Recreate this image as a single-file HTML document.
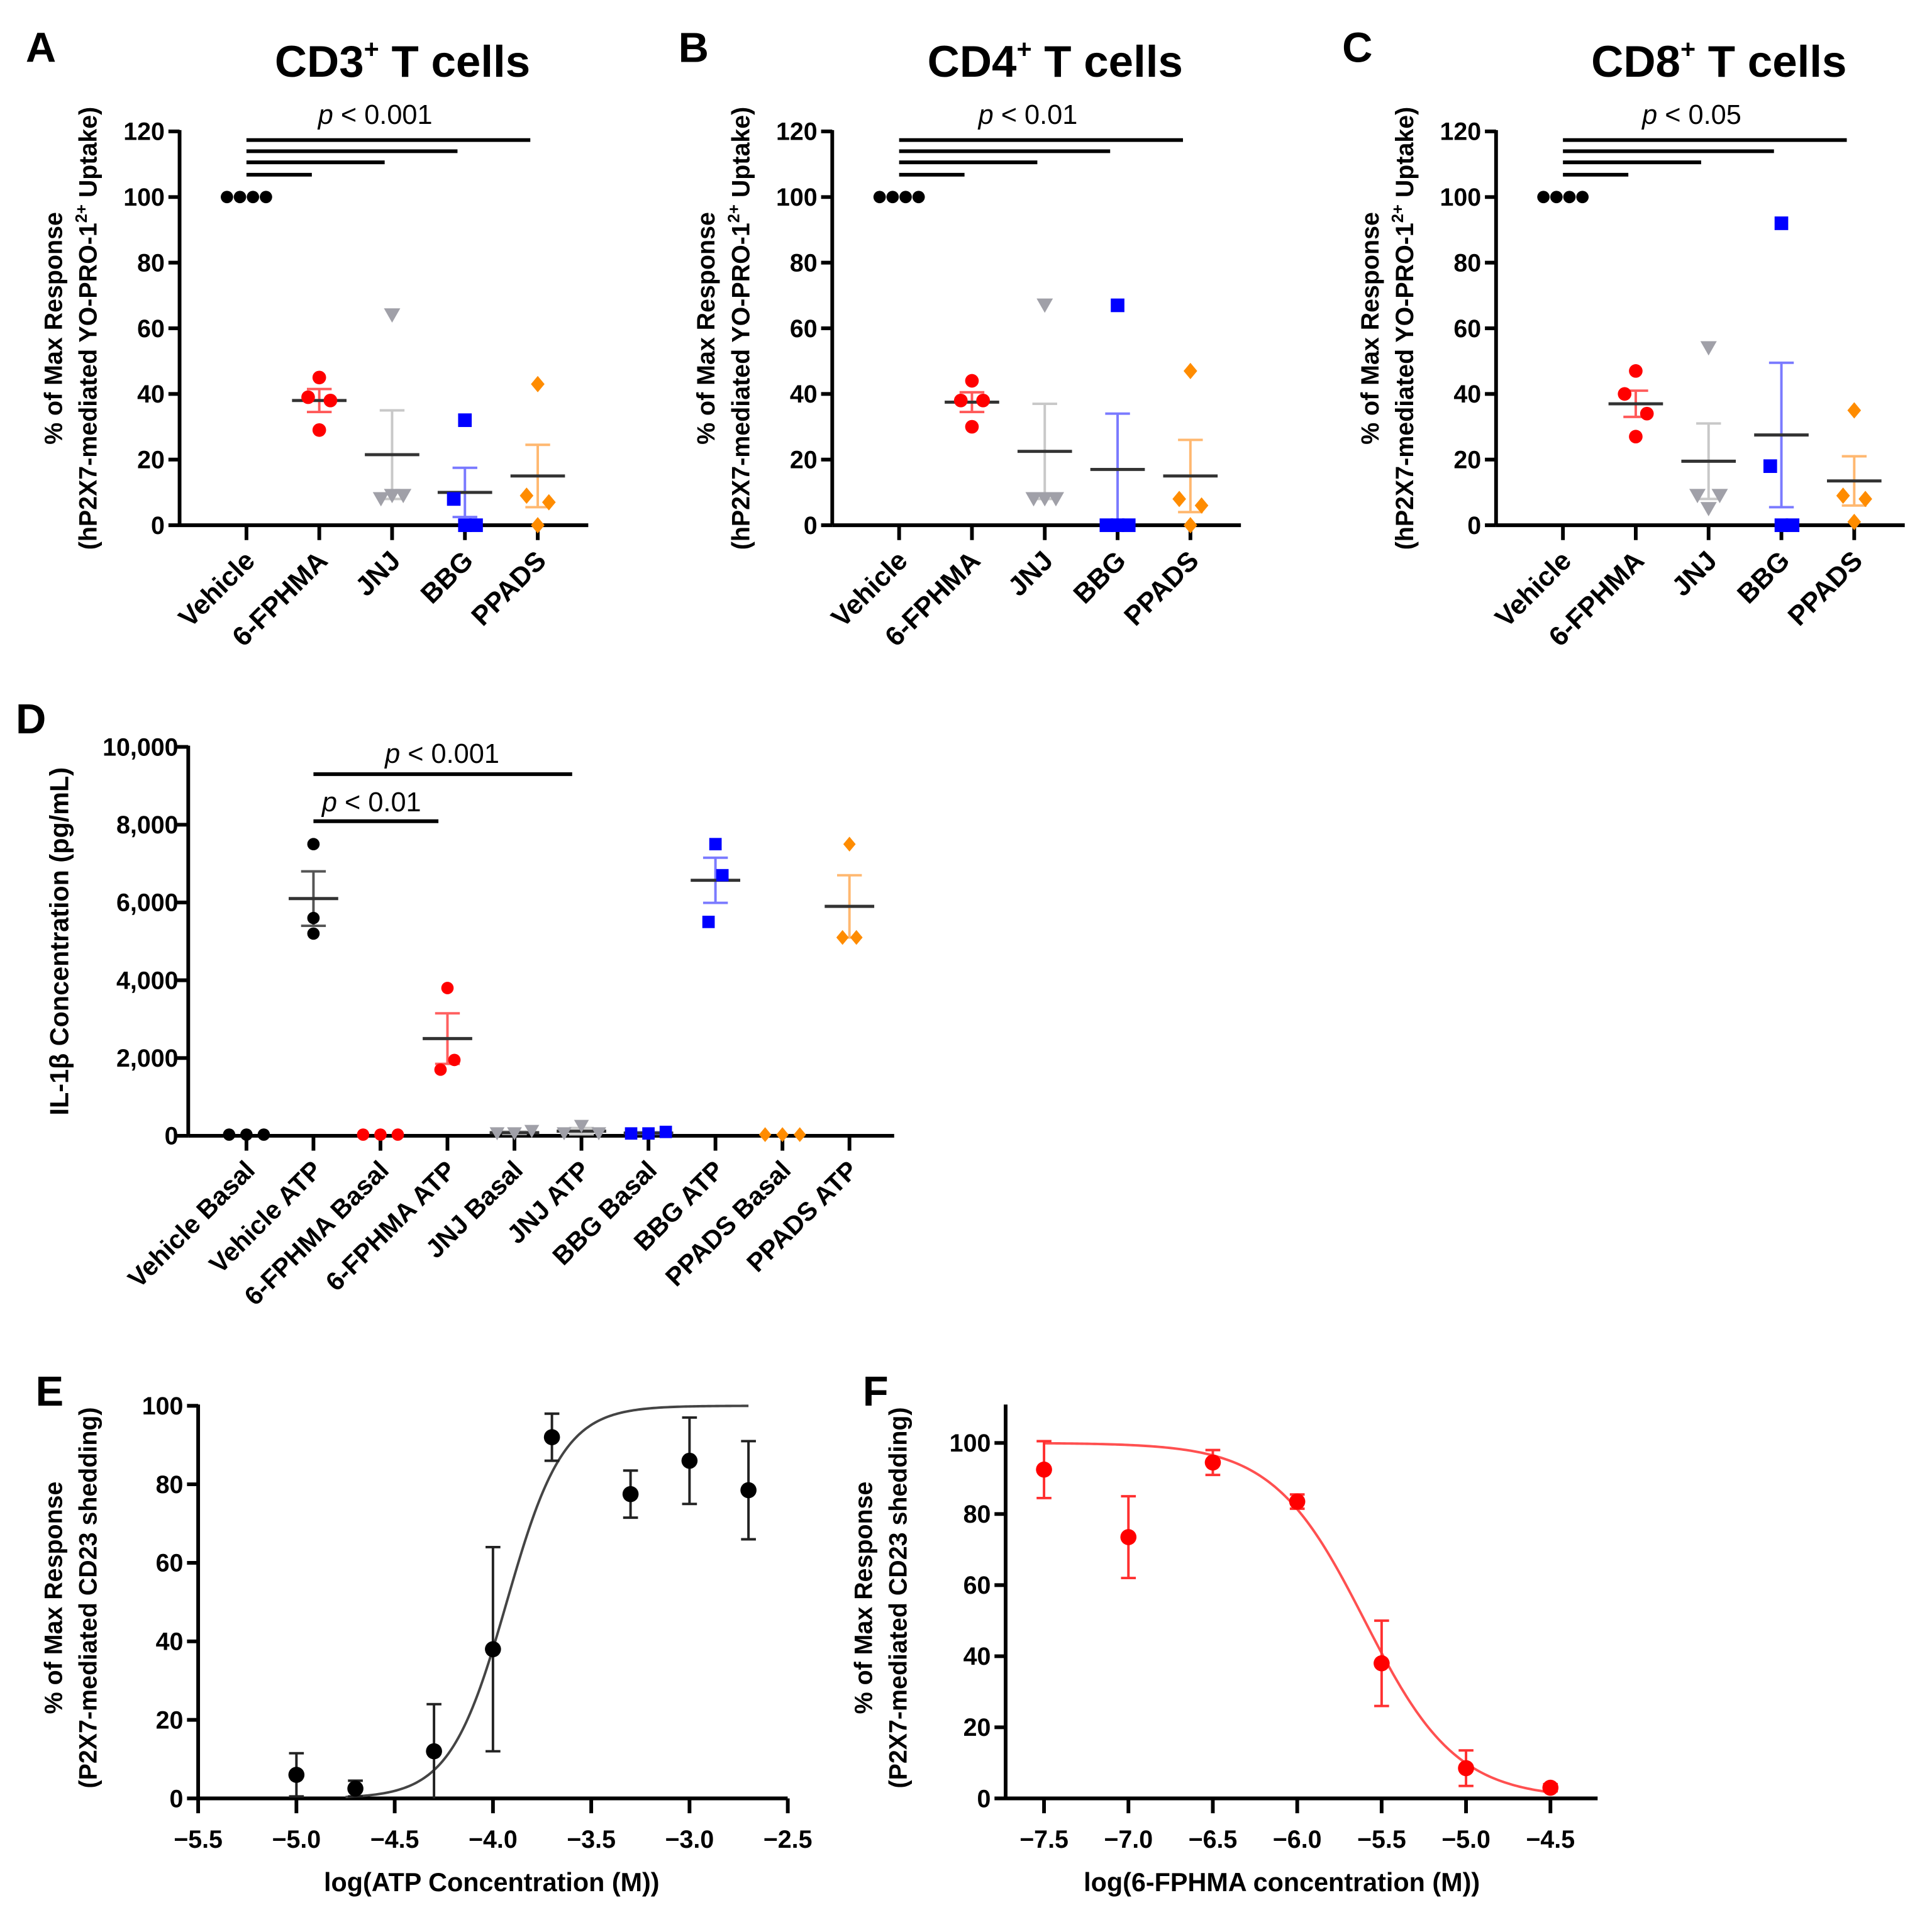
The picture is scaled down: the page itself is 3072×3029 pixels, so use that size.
<!DOCTYPE html>
<html><head><meta charset="utf-8">
<style>
html,body{margin:0;padding:0;background:#fff;}
svg{display:block;}
text{font-family:"Liberation Sans",Arial,sans-serif;}
</style></head>
<body>
<svg id="fig" xmlns="http://www.w3.org/2000/svg" width="3072" height="3029" viewBox="0 0 1560 1538">
</svg>
<script>
// ---------- Data: panels A-C ----------
const tCats = ["Vehicle","6-FPHMA","JNJ","BBG","PPADS"];
const tColors = ["#000000","#ff0000","#a0a0a8","#0000ff","#ff8c00"];
const tShapes = ["circle","circle","tri","square","diamond"];
const cd3Vals = [[100,100,100,100],[45,39,38,29],[64,8,9,9],[32,8,0,0],[43,9,7,0]];
const cd3Mean = [100,38,21.5,10,15];
const cd3Sem = [0,3.5,13.5,7.5,9.5];
const cd4Vals = [[100,100,100,100],[44,38,38,30],[67,8,8,8],[67,0,0,0],[47,8,6,0]];
const cd4Mean = [100,37.5,22.5,17,15];
const cd4Sem = [0,3,14.5,17,11];
const cd8Vals = [[100,100,100,100],[47,40,34,27],[54,9,9,5],[92,18,0,0],[35,9,8,1]];
const cd8Mean = [100,37,19.5,27.5,13.5];
const cd8Sem = [0,4,11.5,22,7.5];
const tTicks = [0,20,40,60,80,100,120];
const tPvals = ["0.001","0.01","0.05"];

// ---------- Data: panel D ----------
const dCats = ["Vehicle Basal","Vehicle ATP","6-FPHMA Basal","6-FPHMA ATP","JNJ Basal","JNJ ATP","BBG Basal","BBG ATP","PPADS Basal","PPADS ATP"];
const dVals = [[30,30,30],[7500,5600,5200],[30,30,30],[3800,1950,1700],[60,120,60],[250,60,60],[60,100,60],[7500,6700,5500],[30,30,30],[7500,5100,5100]];
const dMean = [30,6100,30,2500,80,120,70,6570,30,5900];
const dSem = [0,700,0,650,30,80,20,580,0,800];
const dTicks = [0,2000,4000,6000,8000,10000];
const dTickLabels = ["0","2,000","4,000","6,000","8,000","10,000"];

// ---------- Data: panel E ----------
const eX = [-5,-4.7,-4.3,-4,-3.7,-3.3,-3,-2.7];
const eY = [6,2.5,12,38,92,77.5,86,78.5];
const eErr = [5.5,2,12,26,6,6,11,12.5];
const eTicks = [-5.5,-5.0,-4.5,-4.0,-3.5,-3.0,-2.5];
const eFit = {ec50:-3.93, hill:3};

// ---------- Data: panel F ----------
const fX = [-7.5,-7,-6.5,-6,-5.5,-5,-4.5];
const fY = [92.5,73.5,94.5,83.5,38,8.5,3];
const fErr = [8,11.5,3.5,2,12,5,1];
const fTicks = [-7.5,-7.0,-6.5,-6.0,-5.5,-5.0,-4.5];
const fFit = {ic50:-5.6, hill:1.6};

const svg = document.getElementById('fig');
const NS = "http://www.w3.org/2000/svg";
function mk(tag, attrs, parent){
  const e = document.createElementNS(NS, tag);
  for (const k in attrs) e.setAttribute(k, attrs[k]);
  (parent||svg).appendChild(e);
  return e;
}
function txt(s, x, y, size, opts, parent){
  const t = mk('text', {x:x, y:y, 'font-size':size, 'font-weight':(opts&&opts.w)||'bold', 'text-anchor':(opts&&opts.a)||'middle', fill:(opts&&opts.fill)||'#000'}, parent);
  if (opts && opts.rot!==undefined) t.setAttribute('transform', `rotate(${opts.rot} ${x} ${y})`);
  if (opts && opts.italic) t.setAttribute('font-style','italic');
  t.textContent = s;
  return t;
}
function marker(shape, x, y, r, color, parent){
  let e;
  if (shape==='circle') e = mk('circle',{cx:x,cy:y,r:r,fill:color},parent);
  else if (shape==='square') e = mk('rect',{x:x-r,y:y-r,width:2*r,height:2*r,fill:color},parent);
  else if (shape==='tri') e = mk('polygon',{points:`${x-r*1.2},${y-r} ${x+r*1.2},${y-r} ${x},${y+r*1.1}`,fill:color},parent);
  else e = mk('polygon',{points:`${x},${y-r*1.2} ${x+r},${y} ${x},${y+r*1.2} ${x-r},${y}`,fill:color},parent);
  return e;
}
const jit4 = [0,-9,9,0];

// ---------- Panels A, B, C ----------
const tPanels = [
  {letter:"A", title:"CD3", vals:cd3Vals, mean:cd3Mean, sem:cd3Sem, ox:0},
  {letter:"B", title:"CD4", vals:cd4Vals, mean:cd4Mean, sem:cd4Sem, ox:527},
  {letter:"C", title:"CD8", vals:cd8Vals, mean:cd8Mean, sem:cd8Sem, ox:1063}
];
tPanels.forEach((p, pi) => {
  const g = mk('g', {});
  
  
  const ax = 145 + p.ox, x0 = 199 + p.ox, step = 58.8;
  const y = v => 424 - v * 2.65;
  const xc = i => x0 + i * step;
  const L = txt(p.letter, 33 + p.ox, 50, 34, {}, g);
  
  
  const T = mk('text', {x:325 + p.ox, y:62, 'font-size':36, 'font-weight':'bold', 'text-anchor':'middle'}, g);
  
  
  T.innerHTML = p.title + '<tspan dy="-15" font-size="21">+</tspan><tspan dy="15"> T cells</tspan>';
  const yt = mk('text', {x:50 + p.ox, y:265, 'font-size':20, 'font-weight':'bold', 'text-anchor':'middle', transform:`rotate(-90 ${50+p.ox} 265)`}, g);
  
  
  yt.textContent = '% of Max Response';
  const yt2 = mk('text', {x:78 + p.ox, y:265, 'font-size':20, 'font-weight':'bold', 'text-anchor':'middle', transform:`rotate(-90 ${78+p.ox} 265)`}, g);
  
  
  yt2.innerHTML = '(hP2X7-mediated YO-PRO-1<tspan dy="-8" font-size="13">2+</tspan><tspan dy="8"> Uptake)</tspan>';
  const yA = mk('line', {x1:ax, y1:y(120)-1, x2:ax, y2:y(0), stroke:'#000', 'stroke-width':3}, g);
  
  
  const xA = mk('line', {x1:ax, y1:y(0), x2:ax + 330, y2:y(0), stroke:'#000', 'stroke-width':3}, g);
  
  
  tTicks.forEach(t => {
    mk('line', {x1:ax - 9, y1:y(t), x2:ax, y2:y(t), stroke:'#000', 'stroke-width':3}, g);
    const tl = txt(String(t), ax - 12, y(t) + 7, 20, {a:'end'}, g);
    
    
  });
  tCats.forEach((c, i) => {
    mk('line', {x1:xc(i), y1:y(0), x2:xc(i), y2:y(0) + 12, stroke:'#000', 'stroke-width':3}, g);
    const cl = txt(c, xc(i) + 8, 454, 22, {a:'end', rot:-45}, g);
    
    
  });
  const sigY = [141, 131, 122, 113];
  [1, 2, 3, 4].forEach((k, j) => {
    const sl = mk('line', {x1:xc(0), y1:sigY[j], x2:xc(k) - 6, y2:sigY[j], stroke:'#000', 'stroke-width':3}, g);
    
    
  });
  const pt = mk('text', {x:303 + p.ox, y:100, 'font-size':22, 'text-anchor':'middle'}, g);
  
  
  pt.innerHTML = '<tspan font-style="italic">p</tspan> &lt; ' + tPvals[pi];
  tCats.forEach((c, i) => {
    const col = tColors[i];
    if (i > 0) {
      const lc = i === 1 ? '#ff5a5a' : (i === 2 ? '#c8c8c8' : (i === 3 ? '#7a7aff' : '#ffb870'));
      const lo = p.mean[i] - p.sem[i], hi = p.mean[i] + p.sem[i];
      const eb = mk('line', {x1:xc(i), y1:y(lo), x2:xc(i), y2:y(hi), stroke:lc, 'stroke-width':2}, g);
      
      
      mk('line', {x1:xc(i) - 10, y1:y(lo), x2:xc(i) + 10, y2:y(lo), stroke:lc, 'stroke-width':2}, g);
      mk('line', {x1:xc(i) - 10, y1:y(hi), x2:xc(i) + 10, y2:y(hi), stroke:lc, 'stroke-width':2}, g);
      const ml = mk('line', {x1:xc(i) - 22, y1:y(p.mean[i]), x2:xc(i) + 22, y2:y(p.mean[i]), stroke:'#333', 'stroke-width':2.5}, g);
      
      
    }
    p.vals[i].forEach((v, k) => {
      const dx = i === 0 ? (k - 1.5) * 10.5 : jit4[k];
      const m = marker(tShapes[i], xc(i) + dx, y(v), i === 0 ? 5 : 5.5, col, g);
      
      
    });
  });
});

// ---------- Panel D ----------
(function(){
  const g = mk('g', {});
  
  
  const ax = 152, x0 = 199, step = 54.1;
  const y = v => 917 - v * 0.0314;
  const xc = i => x0 + i * step;
  const L = txt('D', 25, 592, 34, {}, g);
  
  
  const yt = mk('text', {x:55, y:760, 'font-size':21, 'font-weight':'bold', 'text-anchor':'middle', transform:'rotate(-90 55 760)'}, g);
  
  
  yt.textContent = 'IL-1β Concentration (pg/mL)';
  const yA = mk('line', {x1:ax, y1:y(10000)-1, x2:ax, y2:y(0), stroke:'#000', 'stroke-width':3}, g);
  
  
  const xA = mk('line', {x1:ax, y1:y(0), x2:722, y2:y(0), stroke:'#000', 'stroke-width':3}, g);
  
  
  dTicks.forEach((t, k) => {
    mk('line', {x1:ax - 9, y1:y(t), x2:ax, y2:y(t), stroke:'#000', 'stroke-width':3}, g);
    const tl = txt(dTickLabels[k], ax - 8, y(t) + 7, 20, {a:'end'}, g);
    
    
  });
  const dColors = ["#000","#000","#ff0000","#ff0000","#a0a0a8","#a0a0a8","#0000ff","#0000ff","#ff8c00","#ff8c00"];
  const dShapes = ["circle","circle","circle","circle","tri","tri","square","square","diamond","diamond"];
  const errC = ["#555","#555","#ff6060","#ff6060","#c8c8c8","#c8c8c8","#7a7aff","#7a7aff","#ffb870","#ffb870"];
  const jit3 = [0,14,-14];
  dCats.forEach((c, i) => {
    mk('line', {x1:xc(i), y1:y(0), x2:xc(i), y2:y(0) + 12, stroke:'#000', 'stroke-width':3}, g);
    const cl = txt(c, xc(i) + 8, 946, 21, {a:'end', rot:-45}, g);
    
    
    const lo = dMean[i] - dSem[i], hi = dMean[i] + dSem[i];
    if (dSem[i] > 0) {
      const eb = mk('line', {x1:xc(i), y1:y(lo), x2:xc(i), y2:y(hi), stroke:errC[i], 'stroke-width':2}, g);
      
      
      mk('line', {x1:xc(i) - 10, y1:y(lo), x2:xc(i) + 10, y2:y(lo), stroke:errC[i], 'stroke-width':2}, g);
      mk('line', {x1:xc(i) - 10, y1:y(hi), x2:xc(i) + 10, y2:y(hi), stroke:errC[i], 'stroke-width':2}, g);
      const ml = mk('line', {x1:xc(i) - 20, y1:y(dMean[i]), x2:xc(i) + 20, y2:y(dMean[i]), stroke:'#333', 'stroke-width':2.5}, g);
      
      
    }
    dVals[i].forEach((v, k) => {
      const spread = i === 1 ? 0 : (dMean[i] > 1000 ? (k === 0 ? 0 : jit3[k] * 0.4) : jit3[k]);
      const m = marker(dShapes[i], xc(i) + spread, y(v), 5, dColors[i], g);
      
      
    });
  });
  const s1 = mk('line', {x1:xc(1), y1:625, x2:462, y2:625, stroke:'#000', 'stroke-width':3}, g);
  
  
  const s2 = mk('line', {x1:xc(1), y1:663, x2:354, y2:663, stroke:'#000', 'stroke-width':3}, g);
  
  
  const p1 = mk('text', {x:357, y:616, 'font-size':22, 'text-anchor':'middle'}, g);
  
  
  p1.innerHTML = '<tspan font-style="italic">p</tspan> &lt; 0.001';
  const p2 = mk('text', {x:300, y:655, 'font-size':22, 'text-anchor':'middle'}, g);
  
  
  p2.innerHTML = '<tspan font-style="italic">p</tspan> &lt; 0.01';
})();

// ---------- Dose-response panels ----------
function doseResponse(cfg){
  const g = mk('g', {});
  
  
  const X = v => cfg.px0 + (v - cfg.t0) * cfg.pxu;
  const Y = v => 1452 - v * cfg.pyu;
  const L = txt(cfg.letter, cfg.lx, 1135, 34, {}, g);
  
  
  const y1 = mk('text', {x:cfg.tx, y:1290, 'font-size':20, 'font-weight':'bold', 'text-anchor':'middle', transform:`rotate(-90 ${cfg.tx} 1290)`}, g);
  
  
  y1.textContent = '% of Max Response';
  const y2 = mk('text', {x:cfg.tx + 28, y:1290, 'font-size':20, 'font-weight':'bold', 'text-anchor':'middle', transform:`rotate(-90 ${cfg.tx + 28} 1290)`}, g);
  
  
  y2.textContent = '(P2X7-mediated CD23 shedding)';
  const yA = mk('line', {x1:cfg.ax, y1:cfg.ytop, x2:cfg.ax, y2:Y(0), stroke:'#000', 'stroke-width':3}, g);
  
  
  const xA = mk('line', {x1:cfg.ax, y1:Y(0), x2:cfg.xend, y2:Y(0), stroke:'#000', 'stroke-width':3}, g);
  
  
  [0,20,40,60,80,100].forEach(t => {
    mk('line', {x1:cfg.ax - 9, y1:Y(t), x2:cfg.ax, y2:Y(t), stroke:'#000', 'stroke-width':3}, g);
    const tl = txt(String(t), cfg.ax - 12, Y(t) + 7, 20, {a:'end'}, g);
    
    
  });
  cfg.ticks.forEach(t => {
    mk('line', {x1:X(t), y1:Y(0), x2:X(t), y2:Y(0) + 12, stroke:'#000', 'stroke-width':3}, g);
    const tl = txt('−' + Math.abs(t).toFixed(1), X(t), 1492, 20, {}, g);
    
    
  });
  const xt = txt(cfg.xtitle, cfg.xtx, 1527, 21, {}, g);
  
  
  let d = '';
  for (let k = 0; k <= 200; k++) {
    const v = cfg.c0 + (cfg.c1 - cfg.c0) * k / 200;
    d += (k ? 'L' : 'M') + X(v).toFixed(2) + ',' + Y(cfg.fit(v)).toFixed(2);
  }
  const cv = mk('path', {d:d, fill:'none', stroke:cfg.curveColor, 'stroke-width':2}, g);
  
  
  cfg.xs.forEach((xv, i) => {
    const lo = cfg.ys[i] - cfg.err[i], hi = cfg.ys[i] + cfg.err[i];
    const eb = mk('line', {x1:X(xv), y1:Y(Math.max(lo, 0)), x2:X(xv), y2:Y(hi), stroke:cfg.errColor, 'stroke-width':2}, g);
    
    
    if (lo > 0) mk('line', {x1:X(xv) - 6, y1:Y(lo), x2:X(xv) + 6, y2:Y(lo), stroke:cfg.errColor, 'stroke-width':2}, g);
    mk('line', {x1:X(xv) - 6, y1:Y(hi), x2:X(xv) + 6, y2:Y(hi), stroke:cfg.errColor, 'stroke-width':2}, g);
    const m = mk('circle', {cx:X(xv), cy:Y(cfg.ys[i]), r:6.5, fill:cfg.color}, g);
    
    
  });
}
doseResponse({name:'panel-e', letter:'E', lx:40, tx:50, ax:160, ytop:1134, xend:636, px0:160, t0:-5.5, pxu:158.7, pyu:3.17,
  ticks:eTicks, xtitle:'log(ATP Concentration (M))', xtx:397, xs:eX, ys:eY, err:eErr, color:'#000', errColor:'#222', curveColor:'#444',
  c0:-4.75, c1:-2.7, fit: v => 100 / (1 + Math.pow(10, (eFit.ec50 - v) * eFit.hill))});
doseResponse({name:'panel-f', letter:'F', lx:707, tx:704, ax:812, ytop:1134, xend:1290, px0:843, t0:-7.5, pxu:136.3, pyu:2.87,
  ticks:fTicks, xtitle:'log(6-FPHMA concentration (M))', xtx:1035, xs:fX, ys:fY, err:fErr, color:'#ff0000', errColor:'#ff3030', curveColor:'#ff5050',
  c0:-7.5, c1:-4.5, fit: v => 100 / (1 + Math.pow(10, (v - fFit.ic50) * fFit.hill))});
</script>
</body></html>
